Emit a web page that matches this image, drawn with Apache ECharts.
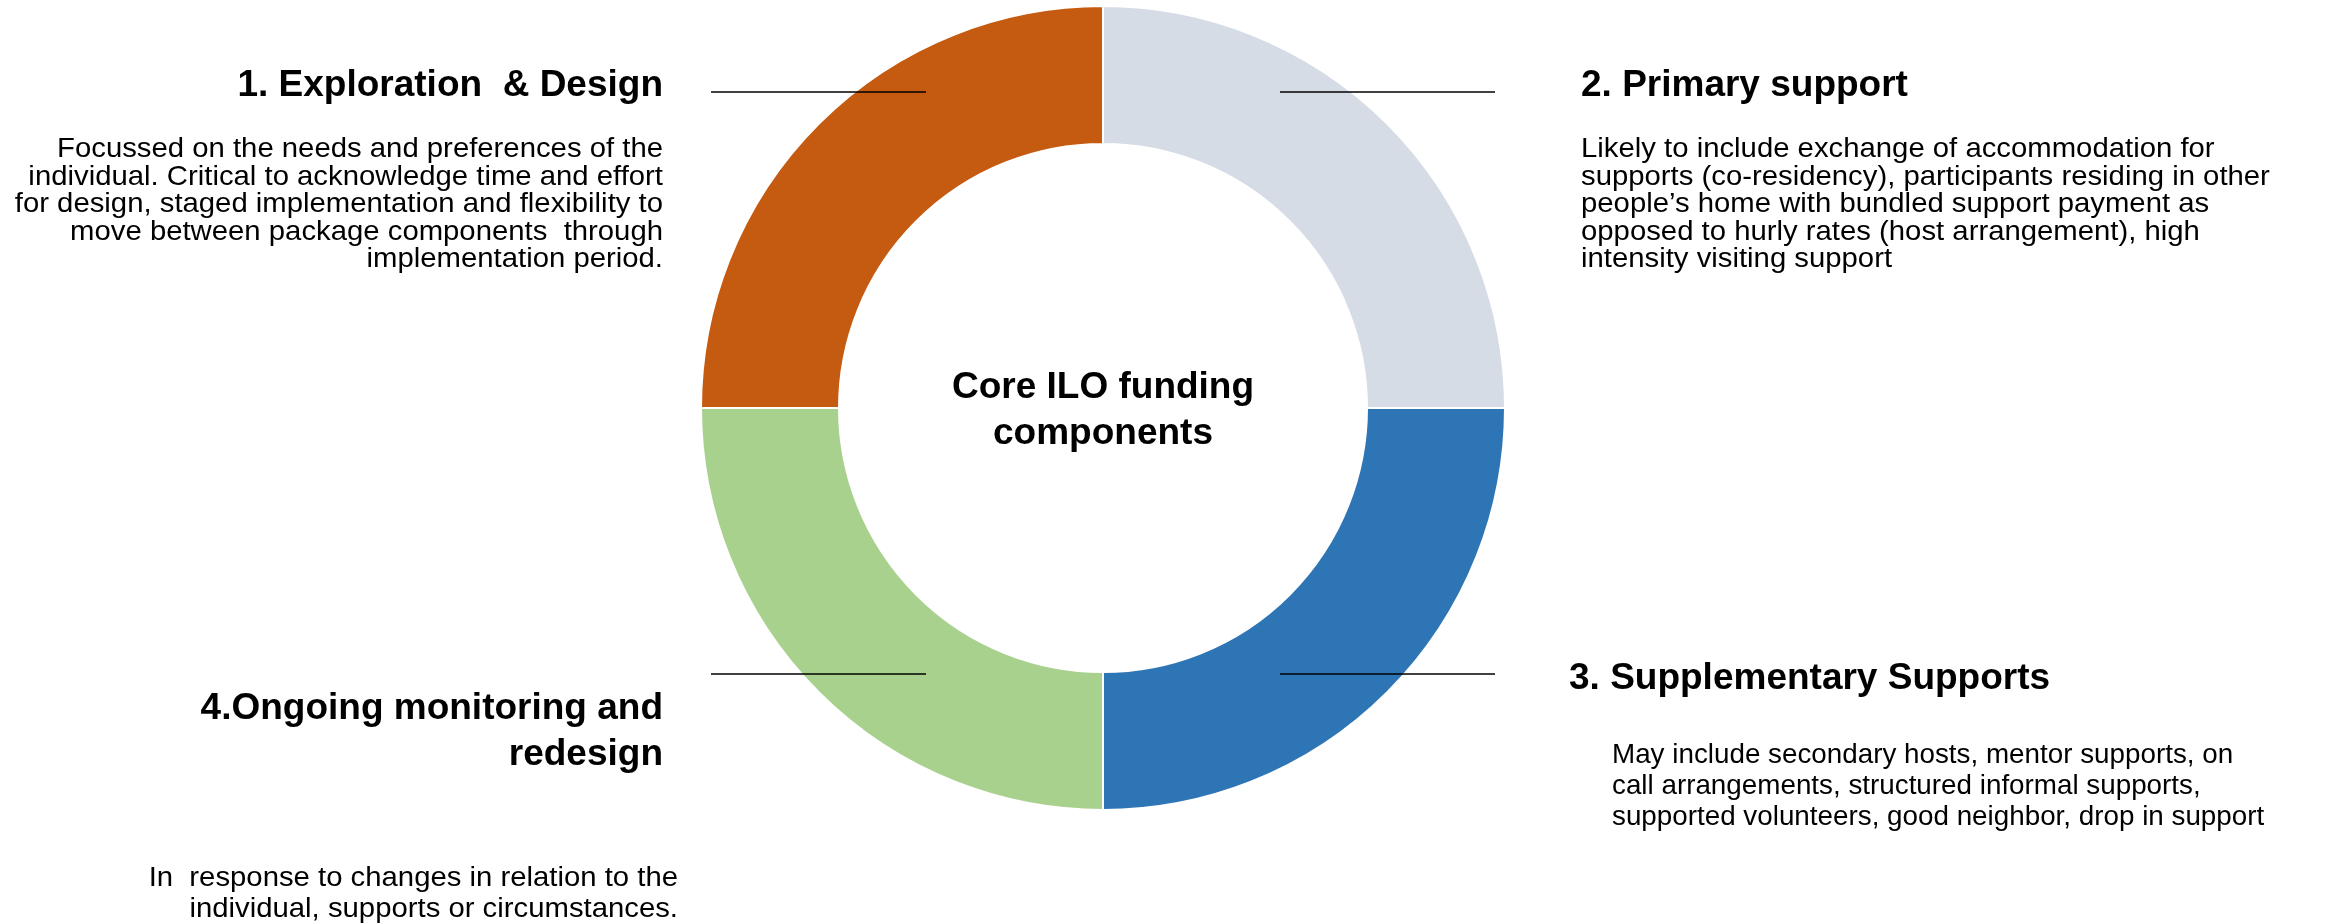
<!DOCTYPE html>
<html>
<head>
<meta charset="utf-8">
<script src="https://cdn.jsdelivr.net/npm/echarts@6/dist/echarts.min.js"></script>
<style>
html,body{margin:0;padding:0;background:#fff;}
#chart{width:2330px;height:924px;}
</style>
</head>
<body>
<div id="chart"></div>
<script>
// ---- data ----
const centerTitle = 'Core ILO funding\ncomponents';
const categories = [
  '2. Primary support',
  '3. Supplementary Supports',
  '4.Ongoing monitoring and\nredesign',
  '1. Exploration  & Design'
];
const values = [25, 25, 25, 25];
const descriptions = [
  'Likely to include exchange of accommodation for\nsupports (co-residency), participants residing in other\npeople\u2019s home with bundled support payment as\nopposed to hurly rates (host arrangement), high\nintensity visiting support',
  'May include secondary hosts, mentor supports, on\ncall arrangements, structured informal supports,\nsupported volunteers, good neighbor, drop in support',
  'In  response to changes in relation to the\nindividual, supports or circumstances.',
  'Focussed on the needs and preferences of the\nindividual. Critical to acknowledge time and effort\nfor design, staged implementation and flexibility to\nmove between package components  through\nimplementation period.'
];

// ---- styles / layout ----
const colors = ['#D6DCE5', '#2E75B6', '#A9D18E', '#C55A11'];
const CX = 1103, CY = 408;
const FONT = '"Liberation Sans", Arial, Helvetica, sans-serif';
const titleFont = 'bold 37px ' + FONT;
const BODY_FS = 27.5;

// label placement per slice (bw = rendered width factor of body text)
const layout = [
  {tx: 1581, ty: 86, ta: 'left', tva: 'middle', tlh: 46, bx: 1581, by: 136, ba: 'left', blh: 27.5, bw: 29.3},
  {tx: 1569, ty: 679, ta: 'left', tva: 'middle', tlh: 46, bx: 1612, by: 739.5, ba: 'left', blh: 31.2, bw: 27.8},
  {tx: 663, ty: 686, ta: 'right', tva: 'top', tlh: 46, bx: 678, by: 863, ba: 'right', blh: 31, bw: 29.3},
  {tx: 663, ty: 86, ta: 'right', tva: 'middle', tlh: 46, bx: 663, by: 136, ba: 'right', blh: 27.5, bw: 29.3}
];
// leader lines (relative to centre)
const leaders = [
  {x1: CX + 177, x2: CX + 392, y: CY - 316},
  {x1: CX + 177, x2: CX + 392, y: CY + 266},
  {x1: CX - 392, x2: CX - 177, y: CY + 266},
  {x1: CX - 392, x2: CX - 177, y: CY - 316}
];

const graphics = [];
categories.forEach((c, i) => {
  const L = layout[i];
  graphics.push({
    type: 'text', x: L.tx, y: L.ty, z: 10,
    style: {text: c, font: titleFont, fill: '#000', align: L.ta, verticalAlign: L.tva, lineHeight: L.tlh}
  });
  graphics.push({
    type: 'text', x: L.bx, y: L.by, z: 10,
    scaleX: L.bw / BODY_FS, scaleY: 1,
    style: {text: descriptions[i], font: BODY_FS + 'px ' + FONT, fill: '#000', align: L.ba, verticalAlign: 'top', lineHeight: L.blh}
  });
  const ld = leaders[i];
  graphics.push({
    type: 'line', z: 20,
    shape: {x1: ld.x1, y1: ld.y, x2: ld.x2, y2: ld.y},
    style: {stroke: '#000', lineWidth: 1.3}
  });
});
graphics.push({
  type: 'text', x: CX, y: 365, z: 10,
  style: {text: centerTitle, font: titleFont, fill: '#000', align: 'center', verticalAlign: 'top', lineHeight: 46}
});

const chart = echarts.init(document.getElementById('chart'), null, {renderer: 'canvas'});
chart.setOption({
  backgroundColor: '#fff',
  animation: false,
  color: colors,
  series: [{
    type: 'pie',
    center: [CX, CY],
    radius: [264, 402],
    startAngle: 90,
    clockwise: true,
    label: {show: false},
    labelLine: {show: false},
    itemStyle: {borderColor: '#fff', borderWidth: 2},
    emphasis: {disabled: true},
    data: categories.map((c, i) => ({name: c, value: values[i]}))
  }],
  graphic: graphics
});
</script>
</body>
</html>
